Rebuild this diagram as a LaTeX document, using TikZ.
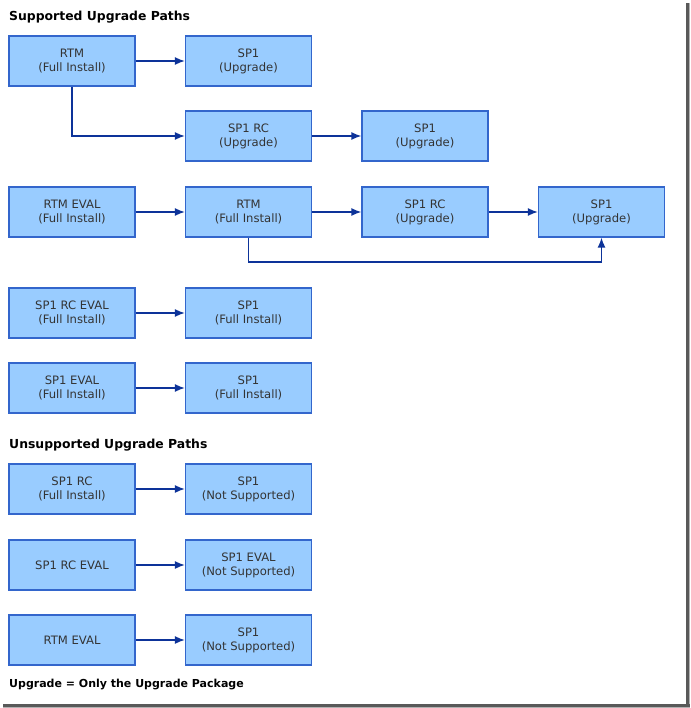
\documentclass[tikz,border=0pt]{standalone}
\usepackage{fontspec}
\setmainfont{DejaVu Sans}
\usetikzlibrary{arrows.meta}

\definecolor{boxfill}{HTML}{99CCFF}
\definecolor{boxline}{HTML}{3366CC}
\definecolor{flowblue}{HTML}{0D3399}
\definecolor{txtgray}{HTML}{333333}

\begin{document}
\begin{tikzpicture}[x=1pt, y=-1pt, >={Latex[length=10pt,width=8pt]},
  stage/.style={draw=boxline, fill=boxfill, line width=1.2pt, minimum width=126pt,
    minimum height=50pt, inner sep=0pt, align=center, text=txtgray,
    font=\fontsize{11.6}{14}\selectfont},
  flow/.style={->, draw=flowblue, line width=1.5pt},
  heading/.style={anchor=west, inner sep=0pt, font=\fontsize{12.4}{14}\selectfont\bfseries}]
\useasboundingbox (0,0) rectangle (690,708);
\fill[white] (0,0) rectangle (690,708);
% frame shadow
\fill[black!65] (686,3) rectangle (688.5,708);
\fill[black!30] (688.5,3) rectangle (690,708);
\fill[black!65] (3,704) rectangle (690,706.5);
\fill[black!30] (3,706.5) rectangle (690,708);

% Supported paths
\node[heading] (hsup) at (9,17) {Supported Upgrade Paths};
\node[stage] (rtmA) at (72,61) {RTM\\(Full Install)};
\node[stage] (spA) at (248.5,61) {SP1\\(Upgrade)};
\node[stage] (rcA) at (248.5,136) {SP1 RC\\(Upgrade)};
\node[stage] (spB) at (425,136) {SP1\\(Upgrade)};
\draw[flow] (rtmA) -- (spA);
\draw[flow] (rtmA.south) |- (rcA.west);
\draw[flow] (rcA) -- (spB);

\node[stage] (evalC) at (72,212) {RTM EVAL\\(Full Install)};
\node[stage] (rtmC) at (248.5,212) {RTM\\(Full Install)};
\node[stage] (rcC) at (425,212) {SP1 RC\\(Upgrade)};
\node[stage] (spC) at (601.5,212) {SP1\\(Upgrade)};
\draw[flow] (evalC) -- (rtmC);
\draw[flow] (rtmC) -- (rcC);
\draw[flow] (rcC) -- (spC);
\draw[flow] (rtmC.south) -- (rtmC.south |- 0,262) -| (spC.south);

\node[stage] (rcevD) at (72,313) {SP1 RC EVAL\\(Full Install)};
\node[stage] (spD) at (248.5,313) {SP1\\(Full Install)};
\draw[flow] (rcevD) -- (spD);

\node[stage] (evE) at (72,388) {SP1 EVAL\\(Full Install)};
\node[stage] (spE) at (248.5,388) {SP1\\(Full Install)};
\draw[flow] (evE) -- (spE);

% Unsupported paths
\node[heading] (hunsup) at (9,445) {Unsupported Upgrade Paths};
\node[stage] (rcF) at (72,489) {SP1 RC\\(Full Install)};
\node[stage] (spF) at (248.5,489) {SP1\\(Not Supported)};
\draw[flow] (rcF) -- (spF);

\node[stage] (rcevG) at (72,565) {SP1 RC EVAL};
\node[stage] (evG) at (248.5,565) {SP1 EVAL\\(Not Supported)};
\draw[flow] (rcevG) -- (evG);

\node[stage] (evH) at (72,640) {RTM EVAL};
\node[stage] (spH) at (248.5,640) {SP1\\(Not Supported)};
\draw[flow] (evH) -- (spH);

\node[heading, font=\fontsize{11}{12}\selectfont\bfseries] (legend) at (9,684)
  {Upgrade = Only the Upgrade Package};
\end{tikzpicture}
\end{document}
